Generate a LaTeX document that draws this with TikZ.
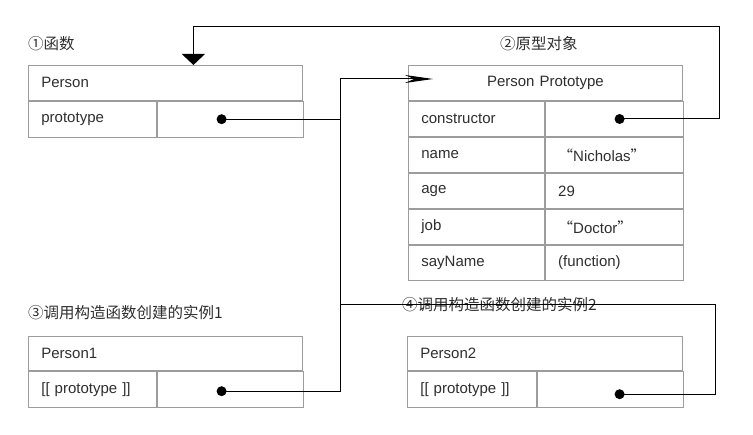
\documentclass[tikz,border=0pt]{standalone}
\usepackage{fontspec}
\setmainfont{Liberation Sans}
\newfontfamily\cjk{Noto Sans CJK SC}
\usepackage{tikz}
\usetikzlibrary{positioning}
\usetikzlibrary{calc}
\usetikzlibrary{arrows.meta}

\definecolor{boxgray}{HTML}{9C9C9C}
\definecolor{textgray}{HTML}{2E2E2E}

\begin{document}
\begin{tikzpicture}[x=1pt, y=-1pt,
  cell/.style={draw=boxgray, line width=0.8pt, anchor=north west, inner ysep=0pt, inner xsep=13pt, align=left, text=textgray, font=\fontsize{15}{18}\selectfont},
  dot/.style={circle, fill=black, inner sep=0pt, minimum size=10pt},
  link/.style={draw=black, line width=1pt},
  caption/.style={anchor=west, inner sep=0pt, text=textgray, font=\cjk\fontsize{15.5}{18}\selectfont}]
\useasboundingbox (0,0) rectangle (753,435);

\coordinate (bus) at (340,79);
\coordinate (target) at (433,79);
\coordinate (loopTop) at (719,27);
\coordinate (loopBot) at (715,305);

\node[caption] (capPerson) at (28,44) {①函数};
\node[caption] (capProto) at (500,44) {②原型对象};
\node[caption] (capOne) at (28,313) {③调用构造函数创建的实例1};
\node[caption] (capTwo) at (402,305) {④调用构造函数创建的实例2};

% Person
\node[cell, text width=248pt, minimum height=35pt] (person) at (28,65) {Person};
\node[cell, text width=102pt, minimum height=36pt, below right=0pt and 0pt of person.south west] (pkey) {prototype};
\node[cell, text width=120pt, minimum height=36pt, right=0pt of pkey] (pval) {};
\node[dot] (pdot) at ([xshift=-82pt]pval.east) {};

% Person Prototype
\node[cell, align=center, text width=248pt, minimum height=35.2pt] (proto) at (408,65) {Person Prototype};
\node[cell, text width=110pt, minimum height=35.2pt, below right=0pt and 0pt of proto.south west] (ckey) {constructor};
\node[cell, text width=112pt, minimum height=35.2pt, right=0pt of ckey] (cval) {};
\node[cell, text width=110pt, minimum height=35.2pt, below right=0pt and 0pt of ckey.south west] (nkey) {name};
\node[cell, text width=112pt, minimum height=35.2pt, right=0pt of nkey] (nval) {{\cjk “}Nicholas{\cjk ”}};
\node[cell, text width=110pt, minimum height=35.2pt, below right=0pt and 0pt of nkey.south west] (akey) {age};
\node[cell, text width=112pt, minimum height=35.2pt, right=0pt of akey] (aval) {29};
\node[cell, text width=110pt, minimum height=35.2pt, below right=0pt and 0pt of akey.south west] (jkey) {job};
\node[cell, text width=112pt, minimum height=35.2pt, right=0pt of jkey] (jval) {{\cjk “}Doctor{\cjk ”}};
\node[cell, text width=110pt, minimum height=35.2pt, below right=0pt and 0pt of jkey.south west] (skey) {sayName};
\node[cell, text width=112pt, minimum height=35.2pt, right=0pt of skey] (sval) {(function)};
\node[dot] (cdot) at ([xshift=-64pt]cval.east) {};

% Person1
\node[cell, text width=248pt, minimum height=34pt] (personA) at (28,336) {Person1};
\node[cell, text width=102pt, minimum height=36pt, below right=0pt and 0pt of personA.south west] (akeyA) {[[ prototype ]]};
\node[cell, text width=120pt, minimum height=36pt, right=0pt of akeyA] (avalA) {};
\node[dot] (p1dot) at ([xshift=-82pt,yshift=-2pt]avalA.east) {};

% Person2
\node[cell, text width=249pt, minimum height=34pt] (personB) at (407,336) {Person2};
\node[cell, text width=103pt, minimum height=36pt, below right=0pt and 0pt of personB.south west] (bkeyB) {[[ prototype ]]};
\node[cell, text width=120pt, minimum height=36pt, right=0pt of bkeyB] (bvalB) {};
\node[dot] (p2dot) at ([xshift=-64pt,yshift=-5pt]bvalB.east) {};

\draw[link] (pdot.center) -- (pdot -| bus);% Person to bus
\draw[link, -{Stealth[length=28pt, width=8pt, inset=9pt]}] (p1dot.center) -| (bus) -- (target);% Person1 to prototype
\draw[link] (p2dot.center) -| (loopBot) -- (loopBot -| bus);% Person2 to bus
\draw[link, -{Triangle[length=11pt, width=23pt]}] (cdot.center) -| (loopTop) -| ([xshift=28pt]person.north);% constructor back to Person
\end{tikzpicture}
\end{document}
